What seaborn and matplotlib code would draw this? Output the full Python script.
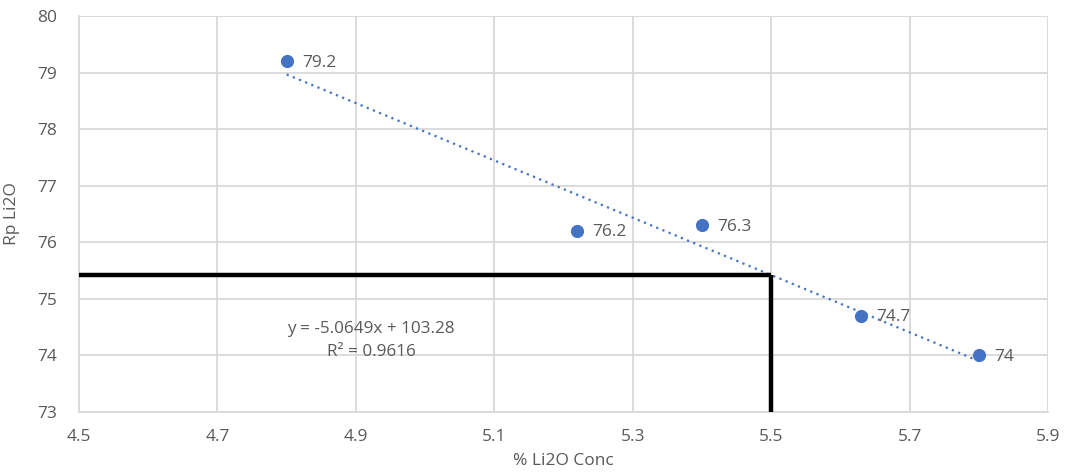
import numpy as np
import pandas as pd
import matplotlib
matplotlib.use("Agg")
import matplotlib.pyplot as plt
import seaborn as sns

conc = [4.8, 5.22, 5.4, 5.63, 5.8]
rp = [79.2, 76.2, 76.3, 74.7, 74.0]
labels = ["79.2", "76.2", "76.3", "74.7", "74"]
x_ticks = [4.5, 4.7, 4.9, 5.1, 5.3, 5.5, 5.7, 5.9]
y_ticks = [73, 74, 75, 76, 77, 78, 79, 80]
target_x = 5.5
eq_text = "y = -5.0649x + 103.28\nR² = 0.9616"

sns.set_theme(style="whitegrid")
plt.rcParams['font.family'] = ['Open Sans', 'DejaVu Sans']

df = pd.DataFrame({"conc": conc, "rp": rp})

fig = plt.figure(figsize=(10.66, 4.72), dpi=100)
ax = fig.add_axes([79/1066, 1-412/472, (1048-79)/1066, (412-16)/472])

blue = "#4472C4"
gray = "#595959"

# trendline
slope, intercept = np.polyfit(conc, rp, 1)
xs = np.array([min(conc), max(conc)])
ax.plot(xs, slope*xs + intercept, color=blue, lw=1.6, ls=(0, (1, 2)), zorder=3)

sns.scatterplot(data=df, x="conc", y="rp", ax=ax, color=blue, s=90,
                edgecolor=blue, linewidth=0, zorder=4)

for xv, yv, lab in zip(conc, rp, labels):
    ax.annotate(lab, (xv, yv), xytext=(11, -1), textcoords="offset points",
                va="center", ha="left", fontsize=12.5, color=gray, zorder=5)

# reading lines
y_target = slope*target_x + intercept
ax.plot([4.5, target_x], [y_target, y_target], color="black", lw=3.2, zorder=6,
        solid_capstyle="butt")
ax.plot([target_x, target_x], [73, y_target], color="black", lw=3.2, zorder=6,
        solid_capstyle="butt")

ax.text(4.922, 74.27, eq_text, ha="center", va="center", fontsize=12.3,
        color=gray, linespacing=1.6)

ax.set_xlim(4.5, 5.9)
ax.set_ylim(73, 80)
ax.set_xticks(x_ticks)
ax.set_yticks(y_ticks)
ax.set_xticklabels([f"{t:.1f}" for t in x_ticks])
ax.set_yticklabels([str(t) for t in y_ticks])
ax.tick_params(axis="both", colors=gray, labelsize=12.5, length=0)
ax.tick_params(axis="x", pad=12)
ax.tick_params(axis="y", pad=16)
ax.grid(True, color="#d9d9d9", lw=1.3)
for s in ax.spines.values():
    s.set_visible(False)
ax.spines["left"].set_visible(True)
ax.spines["bottom"].set_visible(True)
ax.spines["left"].set_color("#d9d9d9")
ax.spines["bottom"].set_color("#d9d9d9")
ax.spines["left"].set_linewidth(1.3)
ax.spines["bottom"].set_linewidth(1.3)
ax.set_xlabel("% Li2O Conc", fontsize=12.5, color=gray, labelpad=6)
ax.set_ylabel("Rp Li2O", fontsize=12.5, color=gray, labelpad=12)
ax.set_facecolor("white")

fig.savefig("out.png", dpi=100, facecolor="white")
